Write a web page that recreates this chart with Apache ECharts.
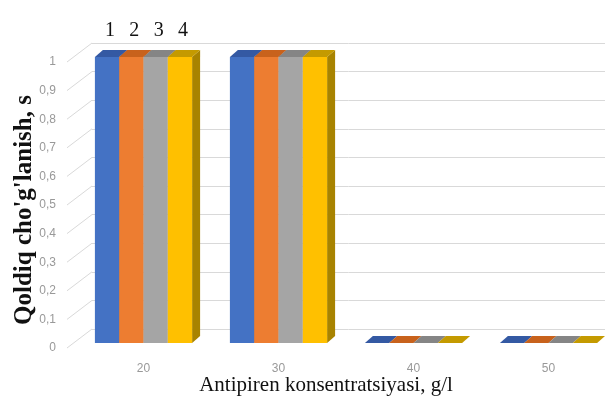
<!DOCTYPE html>
<html><head><meta charset="utf-8">
<script src="https://cdn.jsdelivr.net/npm/echarts@6/dist/echarts.min.js"></script>
<style>html,body{margin:0;padding:0;background:#fff}#c{width:605px;height:398px}</style>
</head><body><div id="c"></div>
<script>
// ---- data ----
const categories = ['20', '30', '40', '50'];
const seriesNames = ['1', '2', '3', '4'];
const values1 = [1, 1, 0, 0];
const values2 = [1, 1, 0, 0];
const values3 = [1, 1, 0, 0];
const values4 = [1, 1, 0, 0];
const yTicks = [0, 0.1, 0.2, 0.3, 0.4, 0.5, 0.6, 0.7, 0.8, 0.9, 1];
const yAxisTitle = "Qoldiq cho'g'lanish, s";
const xAxisTitle = 'Antipiren konsentratsiyasi, g/l';

// ---- styles ----
const frontColors = ['#4472C4', '#ED7D31', '#A5A5A5', '#FFC000'];
const topColors = ['#3459A3', '#C8621C', '#858585', '#C49A00'];
const sideColors = ['#2F5597', '#B35A18', '#7A7A7A', '#A88300'];
const allValues = [values1, values2, values3, values4];
const DX = 8, DY = 7;

const chart = echarts.init(document.getElementById('c'), null, {renderer: 'canvas'});

function barSeries(s) {
  return {
    type: 'custom',
    name: seriesNames[s],
    xAxisIndex: 2, yAxisIndex: 2,
    data: allValues[s].map((v, i) => [i, v]),
    encode: {x: 0, y: 1},
    z: 10 + s,
    renderItem: function (params, api) {
      const cat = api.value(0), v = api.value(1);
      const top = api.coord([cat, v]);
      const base = api.coord([cat, 0]);
      const band = api.size([1, 0])[0];
      const groupW = band * 0.72;
      const w = groupW / 4;
      const x0 = top[0] - groupW / 2 + s * w;
      const children = [
        {type: 'polygon', shape: {points: [[x0 + w, top[1]], [x0 + w + DX, top[1] - DY], [x0 + w + DX, base[1] - DY], [x0 + w, base[1]]]},
          style: {fill: sideColors[s]}},
        {type: 'rect', shape: {x: x0, y: top[1], width: w, height: base[1] - top[1]},
          style: {fill: frontColors[s]}},
        {type: 'polygon', shape: {points: [[x0, top[1]], [x0 + DX, top[1] - DY], [x0 + w + DX, top[1] - DY], [x0 + w, top[1]]]},
          style: {fill: topColors[s]}}
      ];
      if (params.dataIndex === 0) {
        children.push({type: 'text', x: x0 + w / 2 + 3, y: top[1] - 36,
          style: {text: seriesNames[s], fill: '#111', font: '20px "Liberation Serif"', align: 'center', verticalAlign: 'top'}});
      }
      return {type: 'group', children: children};
    }
  };
}

const option = {
  backgroundColor: '#ffffff',
  animation: false,
  grid: [
    {left: 92, right: 0, top: 43, bottom: 69, outerBoundsMode: 'none', containLabel: false},
    {left: 67, width: 30, top: 62, bottom: 50, outerBoundsMode: 'none', containLabel: false},
    {left: 76, right: -11, top: 57, bottom: 55, outerBoundsMode: 'none', containLabel: false}
  ],
  xAxis: [
    {gridIndex: 0, type: 'value', min: 0, max: 1, show: false},
    {gridIndex: 1, type: 'value', min: 0, max: 1, show: false},
    {gridIndex: 2, type: 'category', data: categories,
      axisLine: {show: false}, axisTick: {show: false},
      axisLabel: {color: '#999999', fontSize: 12, margin: 20, fontFamily: 'Liberation Sans'},
      name: xAxisTitle, nameLocation: 'middle', nameGap: 32, nameMoveOverlap: false,
      nameTextStyle: {fontFamily: 'Liberation Serif', fontSize: 21, color: '#111', padding: [0, 40, 0, 0]}}
  ],
  yAxis: [
    {gridIndex: 0, type: 'value', min: 0, max: 1, interval: 0.1,
      axisLabel: {show: false}, axisLine: {show: false}, axisTick: {show: false},
      splitLine: {lineStyle: {color: '#D9D9D9', width: 1}}},
    {gridIndex: 1, type: 'value', min: 0, max: 1, interval: 0.1,
      axisLine: {show: false}, axisTick: {show: false}, splitLine: {show: false},
      axisLabel: {color: '#999999', fontSize: 12, margin: 11, fontFamily: 'Liberation Sans',
        formatter: v => String(Math.round(v * 10) / 10).replace('.', ',')},
      name: yAxisTitle, nameLocation: 'middle', nameRotate: 90, nameGap: 30, nameMoveOverlap: false,
      nameTextStyle: {fontFamily: 'Liberation Serif', fontSize: 25, fontWeight: 'bold', color: '#111', padding: [0, 10, 0, 0]}},
    {gridIndex: 2, type: 'value', min: 0, max: 1, show: false}
  ],
  series: [
    {
      type: 'custom', xAxisIndex: 1, yAxisIndex: 1,
      data: yTicks.map(v => [0, v]), encode: {x: 0, y: 1}, z: 1, silent: true,
      renderItem: function (params, api) {
        const p = api.coord([0, api.value(1)]);
        return {type: 'line', shape: {x1: p[0], y1: p[1], x2: p[0] + 25, y2: p[1] - 19},
          style: {stroke: '#D9D9D9', lineWidth: 1}};
      }
    },
    barSeries(0), barSeries(1), barSeries(2), barSeries(3)
  ]
};
chart.setOption(option);
</script>
</body></html>
